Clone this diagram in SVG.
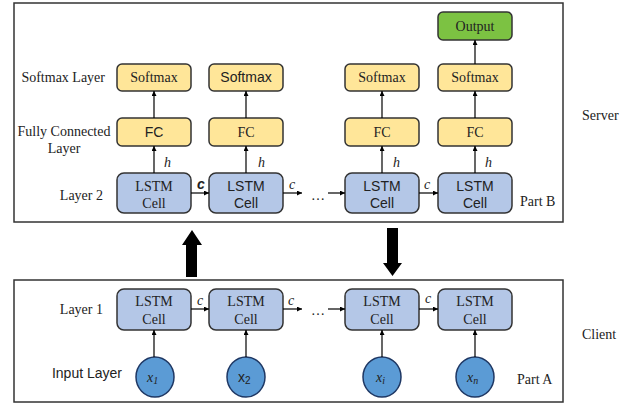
<svg xmlns="http://www.w3.org/2000/svg" width="635" height="408" viewBox="0 0 635 408">
<defs>
<marker id="ah" viewBox="0 0 10 10" refX="10" refY="5" markerWidth="5" markerHeight="5" orient="auto" markerUnits="userSpaceOnUse"><path d="M0,0 L10,5 L0,10 z" fill="#000"/></marker>
</defs>
<style>
.frame{fill:#fff;stroke:#333;stroke-width:1.5}
.lstm{fill:#b4c7e7;stroke:#333;stroke-width:1.5}
.yel{fill:#ffe699;stroke:#333;stroke-width:1.5}
.grn{fill:#7cc242;stroke:#333;stroke-width:1.5}
.inp{fill:#5b9bd5;stroke:#1f3864;stroke-width:1.5}
.c{text-anchor:middle}
.ln{stroke:#000;stroke-width:1.2;fill:none;marker-end:url(#ah)}
.it{font-style:italic}
text{fill:#222;font-size:14px}
</style>
<rect width="635" height="408" fill="#fff"/>
<rect class="frame" x="14" y="3" width="549" height="219"/>
<rect class="frame" x="14" y="280" width="549" height="122"/>

<g id="labels" font-family="Liberation Serif, Times New Roman, serif">
<text x="105" y="82" text-anchor="end">Softmax Layer</text>
<text x="64" y="136" text-anchor="middle">Fully Connected</text>
<text x="64" y="153" text-anchor="middle">Layer</text>
<text x="103" y="200" text-anchor="end">Layer 2</text>
<text x="103" y="314" text-anchor="end">Layer 1</text>
<text x="122" y="378" text-anchor="end" font-family="Liberation Sans, Arial, sans-serif">Input Layer</text>
<text x="520" y="206">Part B</text>
<text x="517" y="384">Part A</text>
<text x="582" y="120">Server</text>
<text x="582" y="339">Client</text>
<text x="318" y="200" text-anchor="middle">…</text>
<text x="318" y="315" text-anchor="middle">…</text>
</g>

<g font-family="Liberation Serif, Times New Roman, serif">
<g id="out"><rect class="grn" x="438" y="12" width="74" height="28" rx="5"/><text class="c" x="475" y="31">Output</text></g>

<g id="sm1"><rect class="yel" x="117" y="64" width="74" height="27" rx="5"/><text class="c" x="154" y="82">Softmax</text></g>
<g id="sm2"><rect class="yel" x="209" y="64" width="74" height="27" rx="5"/><text class="c" x="246" y="82" font-family="Liberation Sans, Arial, sans-serif">Softmax</text></g>
<g id="sm3"><rect class="yel" x="345" y="64" width="74" height="27" rx="5"/><text class="c" x="382" y="82">Softmax</text></g>
<g id="sm4"><rect class="yel" x="438" y="64" width="74" height="27" rx="5"/><text class="c" x="475" y="82">Softmax</text></g>

<g id="fc1"><rect class="yel" x="117" y="118" width="74" height="28" rx="5"/><text class="c" x="154" y="137" font-family="Liberation Sans, Arial, sans-serif">FC</text></g>
<g id="fc2"><rect class="yel" x="209" y="118" width="74" height="28" rx="5"/><text class="c" x="246" y="137">FC</text></g>
<g id="fc3"><rect class="yel" x="345" y="118" width="74" height="28" rx="5"/><text class="c" x="382" y="137">FC</text></g>
<g id="fc4"><rect class="yel" x="438" y="118" width="74" height="28" rx="5"/><text class="c" x="475" y="137">FC</text></g>

<g id="l2c1"><rect class="lstm" x="117" y="173" width="74" height="40" rx="7"/><text class="c" x="154" y="191">LSTM</text><text class="c" x="154" y="208">Cell</text></g>
<g id="l2c2" font-family="Liberation Sans, Arial, sans-serif"><rect class="lstm" x="209" y="173" width="74" height="40" rx="7"/><text class="c" x="246" y="191">LSTM</text><text class="c" x="246" y="208">Cell</text></g>
<g id="l2c3" font-family="Liberation Sans, Arial, sans-serif"><rect class="lstm" x="345" y="173" width="74" height="40" rx="7"/><text class="c" x="382" y="191">LSTM</text><text class="c" x="382" y="208">Cell</text></g>
<g id="l2c4" font-family="Liberation Sans, Arial, sans-serif"><rect class="lstm" x="438" y="173" width="74" height="40" rx="7"/><text class="c" x="475" y="191">LSTM</text><text class="c" x="475" y="208">Cell</text></g>

<g id="l1c1"><rect class="lstm" x="117" y="289" width="74" height="41" rx="7"/><text class="c" x="154" y="306">LSTM</text><text class="c" x="154" y="324">Cell</text></g>
<g id="l1c2"><rect class="lstm" x="209" y="289" width="74" height="41" rx="7"/><text class="c" x="246" y="306">LSTM</text><text class="c" x="246" y="324">Cell</text></g>
<g id="l1c3"><rect class="lstm" x="345" y="289" width="74" height="41" rx="7"/><text class="c" x="382" y="306">LSTM</text><text class="c" x="382" y="324">Cell</text></g>
<g id="l1c4"><rect class="lstm" x="438" y="289" width="74" height="41" rx="7"/><text class="c" x="475" y="306">LSTM</text><text class="c" x="475" y="324">Cell</text></g>

<g id="x1"><ellipse class="inp" cx="155" cy="377" rx="19" ry="20"/><text class="it" x="147" y="382">x<tspan font-size="10" dy="2">1</tspan></text></g>
<g id="x2"><ellipse class="inp" cx="246" cy="377" rx="19" ry="20"/><text x="238" y="382" font-family="Liberation Sans, Arial, sans-serif">x<tspan font-size="10" dy="2">2</tspan></text></g>
<g id="xi"><ellipse class="inp" cx="382" cy="377" rx="19" ry="20"/><text class="it" x="376" y="382">x<tspan font-size="10" dy="2">i</tspan></text></g>
<g id="xn"><ellipse class="inp" cx="475" cy="377" rx="19" ry="20"/><text class="it" x="467" y="382">x<tspan font-size="10" dy="2">n</tspan></text></g>
</g>

<g id="connectors" font-family="Liberation Serif, Times New Roman, serif">
<line class="ln" x1="475" y1="64" x2="475" y2="40"/>
<line class="ln" x1="154" y1="118" x2="154" y2="91"/>
<line class="ln" x1="246" y1="118" x2="246" y2="91"/>
<line class="ln" x1="382" y1="118" x2="382" y2="91"/>
<line class="ln" x1="475" y1="118" x2="475" y2="91"/>
<line class="ln" x1="154" y1="173" x2="154" y2="146"/>
<line class="ln" x1="246" y1="173" x2="246" y2="146"/>
<line class="ln" x1="382" y1="173" x2="382" y2="146"/>
<line class="ln" x1="475" y1="173" x2="475" y2="146"/>
<line class="ln" x1="191" y1="193" x2="209" y2="193"/>
<line class="ln" x1="283" y1="193" x2="302" y2="193"/>
<line class="ln" x1="328" y1="193" x2="345" y2="193"/>
<line class="ln" x1="419" y1="193" x2="438" y2="193"/>
<line class="ln" x1="191" y1="309" x2="209" y2="309"/>
<line class="ln" x1="283" y1="309" x2="302" y2="309"/>
<line class="ln" x1="328" y1="309" x2="345" y2="309"/>
<line class="ln" x1="419" y1="309" x2="438" y2="309"/>
<line class="ln" x1="154" y1="357" x2="154" y2="330"/>
<line class="ln" x1="246" y1="357" x2="246" y2="330"/>
<line class="ln" x1="382" y1="357" x2="382" y2="330"/>
<line class="ln" x1="475" y1="357" x2="475" y2="330"/>
<path d="M186,277 V245 H182 L192,230 L202,245 H197 V277 Z" fill="#000"/>
<path d="M387,228 V263 H383 L392.5,276 L402,263 H398 V228 Z" fill="#000"/>
<text class="it" x="164" y="167">h</text>
<text class="it" x="258" y="167">h</text>
<text class="it" x="393" y="167">h</text>
<text class="it" x="485" y="167">h</text>
<text class="it" x="197" y="189" font-family="Liberation Sans, Arial, sans-serif" font-weight="bold">c</text>
<text class="it" x="289" y="189">c</text>
<text class="it" x="424" y="189">c</text>
<text class="it" x="197" y="305">c</text>
<text class="it" x="288" y="305">c</text>
<text class="it" x="425" y="303">c</text>
</g>
</svg>
